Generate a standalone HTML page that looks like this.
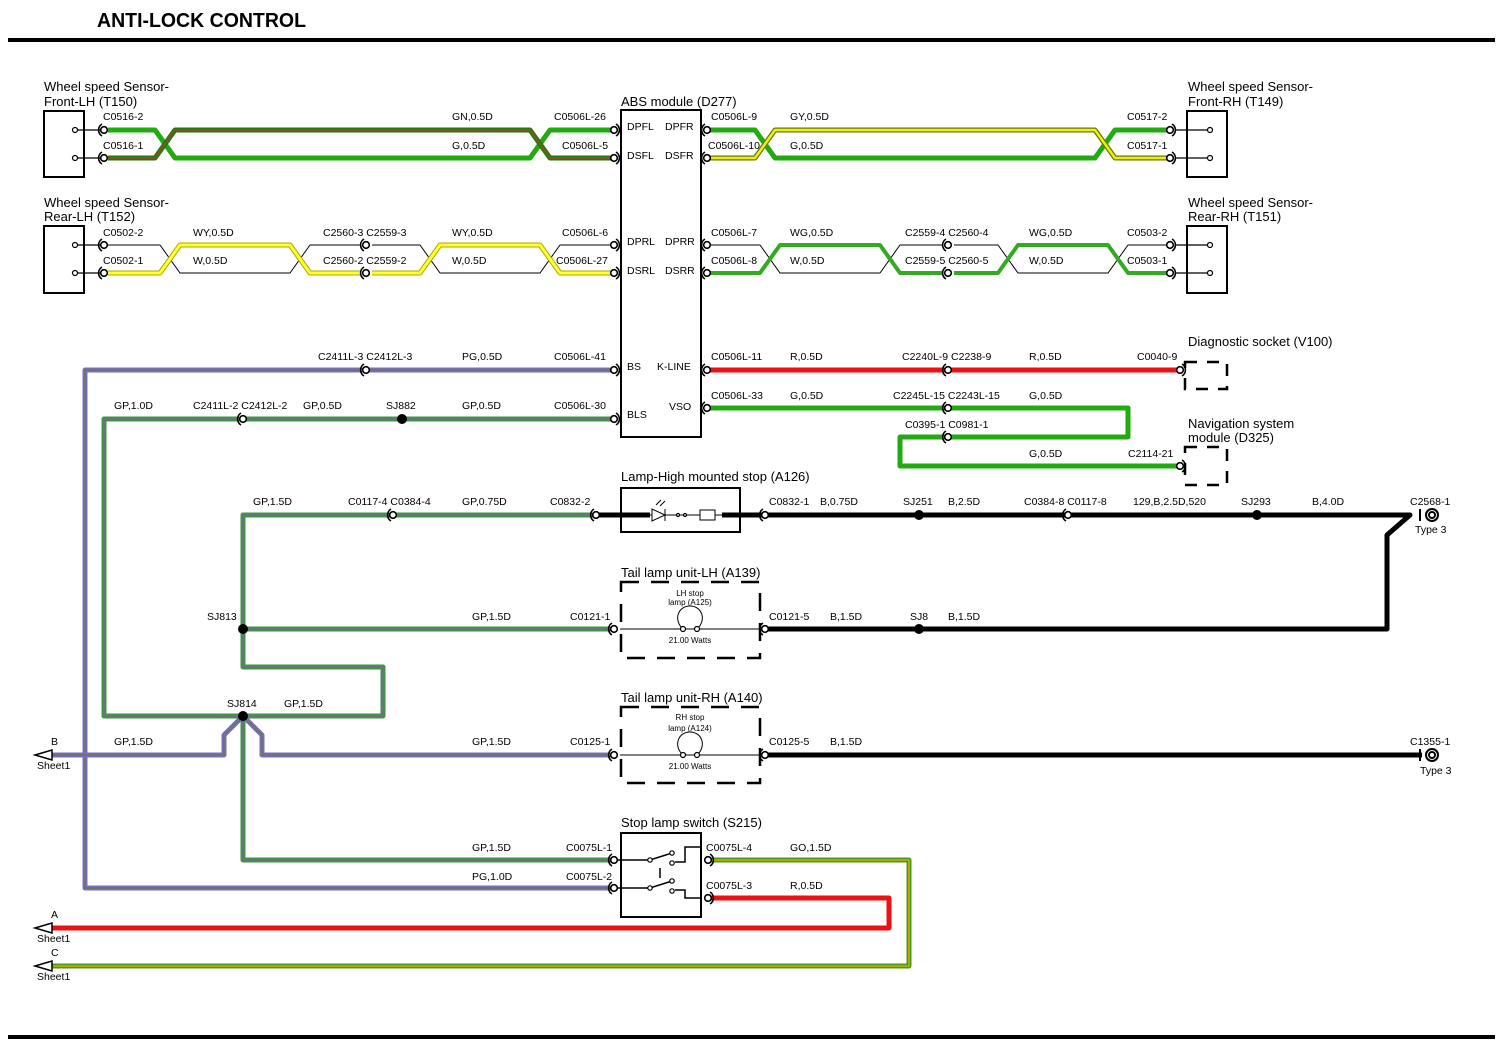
<!DOCTYPE html>
<html><head><meta charset="utf-8"><style>
html,body{margin:0;padding:0;background:#fff}
svg{display:block}
text{font-family:"Liberation Sans",sans-serif;font-size:10.5px;fill:#000}
.t{font-size:13px}
.h{font-size:20px;font-weight:bold}
.s{font-size:8px}
</style></head><body>
<svg width="1500" height="1046" viewBox="0 0 1500 1046" xmlns="http://www.w3.org/2000/svg">
<defs>
<g id="k"><path d="M-2,-6 A7,7 0 0 0 -2,6" fill="none" stroke="#000" stroke-width="1.6"/><circle r="3.3" fill="#fff" stroke="#000" stroke-width="1.6"/></g>
</defs>
<text x="97" y="27" class="h" textLength="209" lengthAdjust="spacingAndGlyphs">ANTI-LOCK CONTROL</text>
<rect x="8" y="38" width="1487" height="4" fill="#000"/>
<rect x="8" y="1035" width="1487" height="4" fill="#000"/>

<g fill="none" stroke="#000" stroke-width="2">
<rect x="44" y="111" width="40" height="66"/>
<rect x="44" y="226" width="40" height="67"/>
<rect x="1187" y="111" width="40" height="66"/>
<rect x="1187" y="226" width="40" height="67"/>
<rect x="621" y="110" width="80" height="327"/>
<rect x="621" y="488" width="119" height="44"/>
<rect x="621" y="833" width="80" height="84"/>
</g>
<g stroke="#000" stroke-width="1.2">
<path d="M75,130H100M75,158H100M75,245H100M75,273H100M1200,130H1175M1200,158H1175M1200,245H1175M1200,273H1175"/>
</g>
<g fill="#fff" stroke="#000" stroke-width="1.2">
<circle cx="75" cy="130" r="2.5"/><circle cx="75" cy="158" r="2.5"/><circle cx="75" cy="245" r="2.5"/><circle cx="75" cy="273" r="2.5"/>
<circle cx="1210" cy="130" r="2.5"/><circle cx="1210" cy="158" r="2.5"/><circle cx="1210" cy="245" r="2.5"/><circle cx="1210" cy="273" r="2.5"/>
</g>
<g stroke="#000" stroke-width="1.2"><path d="M1200,130H1208M1200,158H1208M1200,245H1208M1200,273H1208"/></g>

<g fill="none" stroke-linejoin="round">
<path d="M108,130H155L175,158H530L550,130H612" stroke="#22aa11" stroke-width="5"/>
<path d="M108,158H155L175,130H530L550,158H612" stroke="#227711" stroke-width="5"/>
<path d="M108,158H155L175,130H530L550,158H612" stroke="#7a5a1a" stroke-width="2"/>
<path d="M710,130H755L775,158H1095L1115,130H1172" stroke="#22aa11" stroke-width="5"/>
<path d="M710,158H755L775,130H1095L1115,158H1172" stroke="#667a00" stroke-width="5"/>
<path d="M710,158H755L775,130H1095L1115,158H1172" stroke="#eeee11" stroke-width="2.5"/>
<path d="M108,245H160L180,273H290L310,245H360M372,245H420L440,273H540L560,245H612" stroke="#000" stroke-width="1"/>
<path d="M108,273H160L180,245H290L310,273H360M372,273H420L440,245H540L560,273H612" stroke="#aaaa00" stroke-width="5"/>
<path d="M108,273H160L180,245H290L310,273H360M372,273H420L440,245H540L560,273H612" stroke="#ffff33" stroke-width="3"/>
<path d="M710,245H760L780,273H880L900,245H942M954,245H998L1018,273H1108L1128,245H1172" stroke="#000" stroke-width="1"/>
<path d="M710,273H760L780,245H880L900,273H942M954,273H998L1018,245H1108L1128,273H1172" stroke="#33aa22" stroke-width="4"/>

<path d="M612,370H85V888H612" stroke="#8866cc" stroke-width="5"/>
<path d="M612,370H85V888H612" stroke="#607a7a" stroke-width="2.5"/>
<g stroke="#3a9a3a" stroke-width="5">
<path d="M612,419H104V716H383V667H243V515H612"/>
<path d="M243,629H612"/>
<path d="M243,716V860H612"/>
</g>
<g stroke="#607a7a" stroke-width="2.5">
<path d="M612,419H104V716H383V667H243V515H612"/>
<path d="M243,629H612"/>
<path d="M243,716V860H612"/>
</g>
<path d="M243,716L224,735V755H45M243,716L262,735V755H612" stroke="#8866cc" stroke-width="5"/>
<path d="M243,716L224,735V755H45M243,716L262,735V755H612" stroke="#607a7a" stroke-width="2.5"/>

<path d="M710,370H1180" stroke="#ee1111" stroke-width="5"/>
<path d="M710,408H1128V437H900V466H1180" stroke="#22aa11" stroke-width="5"/>
<path d="M598,515H650M722,515H1410L1387,535V629H765" stroke="#000" stroke-width="5"/>
<path d="M765,755H1422" stroke="#000" stroke-width="5"/>
<path d="M710,860H909V966H45" stroke="#4a9a22" stroke-width="5"/>
<path d="M710,860H909V966H45" stroke="#aaaa00" stroke-width="2"/>
<path d="M710,898H889V928H45" stroke="#ee1111" stroke-width="5"/>
</g>

<g fill="none" stroke="#000" stroke-width="1">
<path d="M650,515H700M715,515H722"/>
<rect x="700" y="510" width="15" height="10" fill="#fff"/>
<path d="M652,509V521L665,515Z M665,509V521" fill="#fff"/>
<path d="M656,505L661,500M660,506L665,501"/>
<path d="M620,629H762M620,755H762"/>
<path d="M683,629C673,620 678,606 690,606C702,606 707,620 697,629"/>
<path d="M683,755C673,746 678,732 690,732C702,732 707,746 697,755"/>
</g>
<g fill="#fff" stroke="#000" stroke-width="1.2">
<circle cx="683" cy="629" r="2.5"/><circle cx="697" cy="629" r="2.5"/><circle cx="683" cy="755" r="2.5"/><circle cx="697" cy="755" r="2.5"/>
<circle cx="685" cy="515" r="1.5"/><circle cx="678" cy="515" r="1.5"/>
</g>
<text x="690" y="596" class="s" text-anchor="middle">LH stop</text>
<text x="690" y="605" class="s" text-anchor="middle">lamp (A125)</text>
<text x="690" y="643" class="s" text-anchor="middle">21.00 Watts</text>
<text x="690" y="720" class="s" text-anchor="middle">RH stop</text>
<text x="690" y="731" class="s" text-anchor="middle">lamp (A124)</text>
<text x="690" y="769" class="s" text-anchor="middle">21.00 Watts</text>

<g fill="none" stroke="#000" stroke-width="2.5" stroke-dasharray="18,12">
<rect x="621" y="582" width="139" height="76"/>
<rect x="621" y="707" width="139" height="76"/>
<rect x="1185" y="362" width="42" height="27" stroke-dasharray="12,10"/>
<rect x="1185" y="447" width="42" height="38" stroke-dasharray="12,10"/>
</g>

<g fill="none" stroke="#000" stroke-width="1.5">
<path d="M612,860H650L672,853M612,888H650L672,881"/>
<path d="M675,862H685V847H701M675,890H685V898H701M660,868V878"/>
</g>
<g fill="#fff" stroke="#000" stroke-width="1.2">
<circle cx="650" cy="860" r="2.2"/><circle cx="672" cy="853" r="2.2"/><circle cx="672" cy="863" r="2.2"/>
<circle cx="650" cy="888" r="2.2"/><circle cx="672" cy="881" r="2.2"/><circle cx="672" cy="891" r="2.2"/>
</g>

<g fill="#000">
<circle cx="402" cy="419" r="5"/><circle cx="243" cy="629" r="5"/><circle cx="243" cy="716" r="5"/>
<circle cx="919" cy="515" r="5"/><circle cx="1257" cy="515" r="5"/><circle cx="919" cy="629" r="5"/>
</g>

<use href="#k" x="104" y="130"/><use href="#k" x="104" y="158"/><use href="#k" x="104" y="245"/><use href="#k" x="104" y="273"/>
<use href="#k" transform="translate(1170,130) scale(-1,1)"/><use href="#k" transform="translate(1170,158) scale(-1,1)"/>
<use href="#k" transform="translate(1170,245) scale(-1,1)"/><use href="#k" transform="translate(1170,273) scale(-1,1)"/>
<use href="#k" transform="translate(614,130) scale(-1,1)"/><use href="#k" transform="translate(614,158) scale(-1,1)"/>
<use href="#k" transform="translate(614,245) scale(-1,1)"/><use href="#k" transform="translate(614,273) scale(-1,1)"/>
<use href="#k" transform="translate(614,370) scale(-1,1)"/><use href="#k" transform="translate(614,419) scale(-1,1)"/>
<use href="#k" x="707" y="130"/><use href="#k" x="707" y="158"/><use href="#k" x="707" y="245"/><use href="#k" x="707" y="273"/>
<use href="#k" x="707" y="370"/><use href="#k" x="707" y="408"/>
<use href="#k" x="366" y="245"/><use href="#k" x="366" y="273"/>
<use href="#k" x="948" y="245"/><use href="#k" x="948" y="273"/>
<use href="#k" x="366" y="370"/><use href="#k" x="243" y="419"/>
<use href="#k" x="948" y="370"/><use href="#k" x="948" y="408"/><use href="#k" x="948" y="437"/>
<use href="#k" transform="translate(1180,370) scale(-1,1)"/><use href="#k" transform="translate(1180,466) scale(-1,1)"/>
<use href="#k" x="393" y="515"/><use href="#k" x="596" y="515"/><use href="#k" x="765" y="515"/><use href="#k" x="1068" y="515"/>
<use href="#k" x="614" y="629"/><use href="#k" x="765" y="629"/>
<use href="#k" x="614" y="755"/><use href="#k" x="765" y="755"/>
<use href="#k" x="614" y="860"/><use href="#k" x="614" y="888"/><use href="#k" transform="translate(708,860) scale(-1,1)"/><use href="#k" transform="translate(708,898) scale(-1,1)"/>
<g fill="#fff" stroke="#000" stroke-width="2">
<circle cx="1432" cy="515" r="6"/><circle cx="1432" cy="515" r="3"/>
<circle cx="1432" cy="755" r="6"/><circle cx="1432" cy="755" r="3"/>
</g>
<path d="M1420,509V521M1420,749V761" stroke="#000" stroke-width="2"/>
<g fill="#fff" stroke="#000" stroke-width="1.5">
<path d="M35,755L52,750V760Z"/><path d="M35,928L52,923V933Z"/><path d="M35,966L52,961V971Z"/>
</g>

<g class="t">
<text x="44" y="91" class="t">Wheel speed Sensor-</text><text x="44" y="106" class="t">Front-LH (T150)</text>
<text x="44" y="207" class="t">Wheel speed Sensor-</text><text x="44" y="221" class="t">Rear-LH (T152)</text>
<text x="1188" y="91" class="t">Wheel speed Sensor-</text><text x="1188" y="106" class="t">Front-RH (T149)</text>
<text x="1188" y="207" class="t">Wheel speed Sensor-</text><text x="1188" y="221" class="t">Rear-RH (T151)</text>
<text x="621" y="106" class="t">ABS module (D277)</text>
<text x="1188" y="346" class="t">Diagnostic socket (V100)</text>
<text x="1188" y="428" class="t">Navigation system</text><text x="1188" y="442" class="t">module (D325)</text>
<text x="621" y="481" class="t">Lamp-High mounted stop (A126)</text>
<text x="621" y="577" class="t">Tail lamp unit-LH (A139)</text>
<text x="621" y="702" class="t">Tail lamp unit-RH (A140)</text>
<text x="621" y="827" class="t">Stop lamp switch (S215)</text>
</g>
<text x="627" y="130">DPFL</text><text x="665" y="130">DPFR</text>
<text x="627" y="159">DSFL</text><text x="665" y="159">DSFR</text>
<text x="627" y="245">DPRL</text><text x="665" y="245">DPRR</text>
<text x="627" y="274">DSRL</text><text x="665" y="274">DSRR</text>
<text x="627" y="370">BS</text><text x="657" y="370">K-LINE</text>
<text x="627" y="418">BLS</text><text x="669" y="410">VSO</text>

<text x="103" y="120">C0516-2</text><text x="103" y="149">C0516-1</text>
<text x="452" y="120">GN,0.5D</text><text x="452" y="149">G,0.5D</text>
<text x="554" y="120">C0506L-26</text><text x="562" y="149">C0506L-5</text>
<text x="711" y="120">C0506L-9</text><text x="708" y="149">C0506L-10</text>
<text x="790" y="120">GY,0.5D</text><text x="790" y="149">G,0.5D</text>
<text x="1127" y="120">C0517-2</text><text x="1127" y="149">C0517-1</text>
<text x="103" y="236">C0502-2</text><text x="103" y="264">C0502-1</text>
<text x="193" y="236">WY,0.5D</text><text x="193" y="264">W,0.5D</text>
<text x="323" y="236">C2560-3 C2559-3</text><text x="323" y="264">C2560-2 C2559-2</text>
<text x="452" y="236">WY,0.5D</text><text x="452" y="264">W,0.5D</text>
<text x="562" y="236">C0506L-6</text><text x="556" y="264">C0506L-27</text>
<text x="711" y="236">C0506L-7</text><text x="711" y="264">C0506L-8</text>
<text x="790" y="236">WG,0.5D</text><text x="790" y="264">W,0.5D</text>
<text x="905" y="236">C2559-4 C2560-4</text><text x="905" y="264">C2559-5 C2560-5</text>
<text x="1029" y="236">WG,0.5D</text><text x="1029" y="264">W,0.5D</text>
<text x="1127" y="236">C0503-2</text><text x="1127" y="264">C0503-1</text>
<text x="318" y="360">C2411L-3 C2412L-3</text><text x="462" y="360">PG,0.5D</text><text x="554" y="360">C0506L-41</text>
<text x="711" y="360">C0506L-11</text><text x="790" y="360">R,0.5D</text><text x="902" y="360">C2240L-9 C2238-9</text><text x="1029" y="360">R,0.5D</text><text x="1137" y="360">C0040-9</text>
<text x="114" y="409">GP,1.0D</text><text x="193" y="409">C2411L-2 C2412L-2</text><text x="303" y="409">GP,0.5D</text><text x="386" y="409">SJ882</text><text x="462" y="409">GP,0.5D</text><text x="554" y="409">C0506L-30</text>
<text x="711" y="399">C0506L-33</text><text x="790" y="399">G,0.5D</text><text x="893" y="399">C2245L-15 C2243L-15</text><text x="1029" y="399">G,0.5D</text>
<text x="905" y="428">C0395-1 C0981-1</text><text x="1029" y="457">G,0.5D</text><text x="1128" y="457">C2114-21</text>
<text x="253" y="505">GP,1.5D</text><text x="348" y="505">C0117-4 C0384-4</text><text x="462" y="505">GP,0.75D</text><text x="550" y="505">C0832-2</text>
<text x="769" y="505">C0832-1</text><text x="820" y="505">B,0.75D</text><text x="903" y="505">SJ251</text><text x="948" y="505">B,2.5D</text><text x="1024" y="505">C0384-8 C0117-8</text><text x="1133" y="505">129,B,2.5D,520</text><text x="1241" y="505">SJ293</text><text x="1312" y="505">B,4.0D</text><text x="1410" y="505">C2568-1</text><text x="1415" y="533">Type 3</text>
<text x="207" y="620">SJ813</text><text x="472" y="620">GP,1.5D</text><text x="570" y="620">C0121-1</text>
<text x="769" y="620">C0121-5</text><text x="830" y="620">B,1.5D</text><text x="910" y="620">SJ8</text><text x="948" y="620">B,1.5D</text>
<text x="227" y="707">SJ814</text><text x="284" y="707">GP,1.5D</text>
<text x="51" y="745">B</text><text x="37" y="769">Sheet1</text><text x="114" y="745">GP,1.5D</text><text x="472" y="745">GP,1.5D</text><text x="570" y="745">C0125-1</text>
<text x="769" y="745">C0125-5</text><text x="830" y="745">B,1.5D</text><text x="1410" y="745">C1355-1</text><text x="1420" y="774">Type 3</text>
<text x="472" y="851">GP,1.5D</text><text x="566" y="851">C0075L-1</text><text x="706" y="851">C0075L-4</text><text x="790" y="851">GO,1.5D</text>
<text x="472" y="880">PG,1.0D</text><text x="566" y="880">C0075L-2</text><text x="706" y="889">C0075L-3</text><text x="790" y="889">R,0.5D</text>
<text x="51" y="918">A</text><text x="37" y="942">Sheet1</text>
<text x="51" y="956">C</text><text x="37" y="980">Sheet1</text>
</svg>
</body></html>
